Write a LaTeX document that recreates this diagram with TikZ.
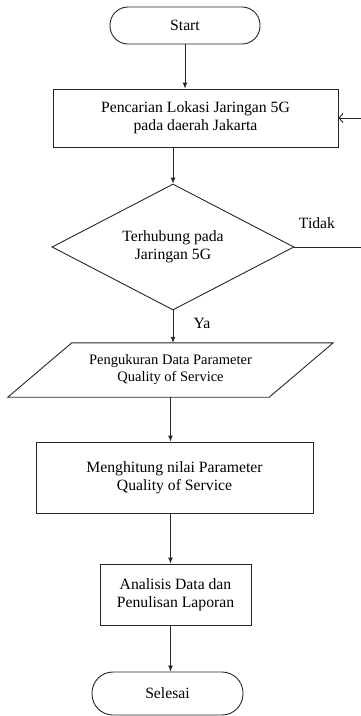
\documentclass[tikz,border=0pt]{standalone}
\usepackage{fontspec}
\setmainfont{Liberation Serif}
\usetikzlibrary{shapes.geometric,arrows.meta,calc}
\newcommand{\twolines}[3]{\raisebox{#1}{\begin{tabular}{@{}c@{}}#2\\#3\end{tabular}}}
\begin{document}
\begin{tikzpicture}[x=1pt,y=-1pt,
  every node/.style={font=\fontsize{15.7}{18}\selectfont, inner sep=0pt, align=center},
  line/.style={line width=0.9pt, draw=black!85},
  arr/.style={line, -{Latex[length=6pt,width=5pt]}},
  termbox/.style={line, draw, rounded corners=18pt},
  procbox/.style={line, draw, rectangle},
  decbox/.style={line, draw, diamond, aspect=1.92},
  iotext/.style={rectangle, minimum width=261pt, minimum height=54pt, font=\fontsize{14.5}{17}\selectfont}
]
\useasboundingbox (0,0) rectangle (361,716);
\node[termbox, minimum width=150pt, minimum height=37pt] (start) at (185,25.5) {Start};
\node[procbox, minimum width=285pt, minimum height=58pt] (b1) at (195.5,118) {Pencarian Lokasi Jaringan 5G\\pada daerah Jakarta};
\node[decbox, minimum width=242pt, minimum height=126pt] (d) at (173,247) {Terhubung pada\\Jaringan 5G};
\node[iotext] (p) at (170.5,370) {Pengukuran Data Parameter\\Quality of Service};
\draw[line] ($(p.north west)+(32,0)$) -- ($(p.north east)+(32,0)$) -- ($(p.south east)+(-32,0)$) -- ($(p.south west)+(-32,0)$) -- cycle;
\node[procbox, minimum width=277pt, minimum height=71pt] (b2) at (174.5,477.5) {\twolines{4pt}{Menghitung nilai Parameter}{Quality of Service}};
\node[procbox, minimum width=151pt, minimum height=61pt] (b3) at (175.5,594.5) {\twolines{5pt}{Analisis Data dan}{Penulisan Laporan}};
\node[termbox, rounded corners=21pt, minimum width=151pt, minimum height=43pt] (end) at (167.5,693.5) {Selesai};
\node (tidak) at (317,223) {Tidak};
\node (ya) at (202,323) {Ya};
\coordinate (loopc) at (363,247);

\draw[arr] (start.south) -- (start.south |- b1.north);
\draw[arr] (d.north |- b1.south) -- (d.north);
\draw[arr] (d.south) -- (d.south |- p.north);
\draw[arr] (p.south) -- (p.south |- b2.north);
\draw[arr] (p.south |- b2.south) -- (p.south |- b3.north);
\draw[arr] (p.south |- b3.south) -- (p.south |- end.north);
\draw[line, -{Straight Barb[length=4pt,width=9pt]}] (d.east) -- (loopc) |- (b1.east);
\end{tikzpicture}
\end{document}
